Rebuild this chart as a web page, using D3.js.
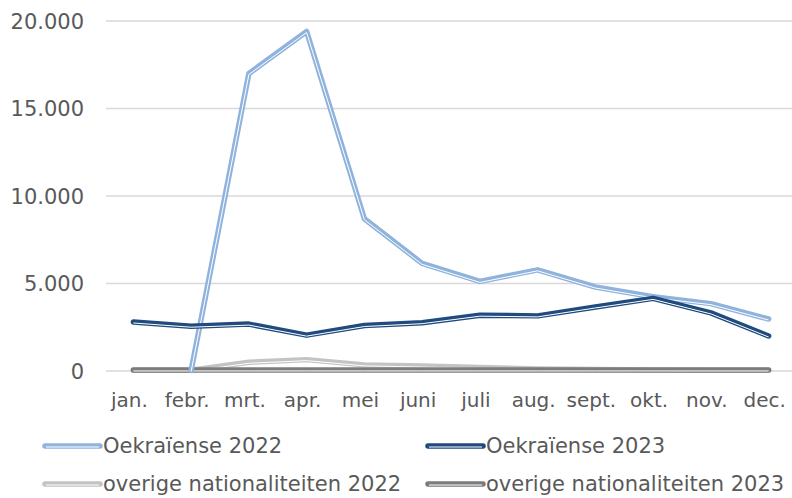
<!DOCTYPE html>
<html>
<head>
<meta charset="utf-8">
<script src="https://cdn.jsdelivr.net/npm/d3@7"></script>
<style>
  body { margin: 0; background: #fff; }
  text { font-family: "DejaVu Sans", Verdana, sans-serif; fill: #595959; }
</style>
</head>
<body>
<div id="chart"></div>
<script>
// Data
const months = ['jan.', 'febr.', 'mrt.', 'apr.', 'mei', 'juni', 'juli', 'aug.', 'sept.', 'okt.', 'nov.', 'dec.'];
const oekraiense2022 = [null, 30, 17000, 19400, 8700, 6150, 5120, 5780, 4800, 4240, 3850, 2970];
const oekraiense2023 = [2800, 2560, 2680, 2050, 2600, 2760, 3190, 3150, 3660, 4150, 3320, 2000];
const overige2022 = [40, 40, 500, 650, 350, 280, 200, 120, 80, 60, 50, 50];
const overige2023 = [60, 60, 60, 60, 60, 60, 60, 60, 60, 60, 60, 60];
const yTicks = [0, 5000, 10000, 15000, 20000];

const series = [
  { name: 'Oekraïense 2022', values: oekraiense2022, color: '#8FB3DD' },
  { name: 'Oekraïense 2023', values: oekraiense2023, color: '#1F4B7E' },
  { name: 'overige nationaliteiten 2022', values: overige2022, color: '#C3C3C3' },
  { name: 'overige nationaliteiten 2023', values: overige2023, color: '#7C7C7C' }
];
// draw order: greys first, blues on top
const drawOrder = [2, 3, 0, 1];

const width = 792, height = 498;

const svg = d3.select('#chart')
  .append('svg')
  .attr('width', width)
  .attr('height', height);

const x = d3.scaleBand()
  .domain(months)
  .range([104.5, 797.5]);

const y = d3.scaleLinear()
  .domain([0, 20000])
  .range([371, 21]);

const fmt = v => d3.format(',')(v).replace(/,/g, '.');

// gridlines
svg.append('g')
  .selectAll('line')
  .data(yTicks)
  .join('line')
  .attr('x1', 106)
  .attr('x2', 792)
  .attr('y1', d => y(d))
  .attr('y2', d => y(d))
  .attr('stroke', '#D9D9D9')
  .attr('stroke-width', 1.5);

// y labels
svg.append('g')
  .selectAll('text')
  .data(yTicks)
  .join('text')
  .attr('x', 84)
  .attr('y', d => y(d))
  .attr('dy', '0.36em')
  .attr('text-anchor', 'end')
  .attr('font-size', 21)
  .text(d => fmt(d));

// x labels
svg.append('g')
  .selectAll('text')
  .data(months)
  .join('text')
  .attr('x', d => x(d) + x.bandwidth() / 2 - 4)
  .attr('y', 407)
  .attr('text-anchor', 'middle')
  .attr('font-size', 20)
  .text(d => d);

const line = d3.line()
  .defined(d => d.v !== null)
  .x(d => x(d.m) + x.bandwidth() / 2)
  .y(d => y(d.v));

// double compound line: thick colour stroke with thin white stripe below centre
drawOrder.forEach(i => {
  const s = series[i];
  const pts = months.map((m, j) => ({ m: m, v: s.values[j] }));
  svg.append('path')
    .datum(pts)
    .attr('d', line)
    .attr('fill', 'none')
    .attr('stroke', s.color)
    .attr('stroke-width', 5.5)
    .attr('stroke-linejoin', 'round')
    .attr('stroke-linecap', 'round');
  svg.append('path')
    .datum(pts)
    .attr('d', line)
    .attr('transform', 'translate(0,1)')
    .attr('fill', 'none')
    .attr('stroke', '#fff')
    .attr('stroke-width', 1)
    .attr('stroke-linejoin', 'round');
});

// legend
const legendPos = [
  { x: 45, y: 446 },
  { x: 428, y: 446 },
  { x: 45, y: 484 },
  { x: 428, y: 484 }
];

const legend = svg.append('g')
  .selectAll('g')
  .data(series)
  .join('g')
  .attr('transform', (d, i) => `translate(${legendPos[i].x},${legendPos[i].y})`);

legend.append('line')
  .attr('x1', 0)
  .attr('x2', 55)
  .attr('stroke', d => d.color)
  .attr('stroke-width', 5.5)
  .attr('stroke-linecap', 'round');

legend.append('line')
  .attr('x1', 1)
  .attr('x2', 54)
  .attr('y1', 1)
  .attr('y2', 1)
  .attr('stroke', '#fff')
  .attr('stroke-width', 1);

legend.append('text')
  .attr('x', 58)
  .attr('dy', '0.34em')
  .attr('font-size', 21)
  .text(d => d.name);
</script>
</body>
</html>
